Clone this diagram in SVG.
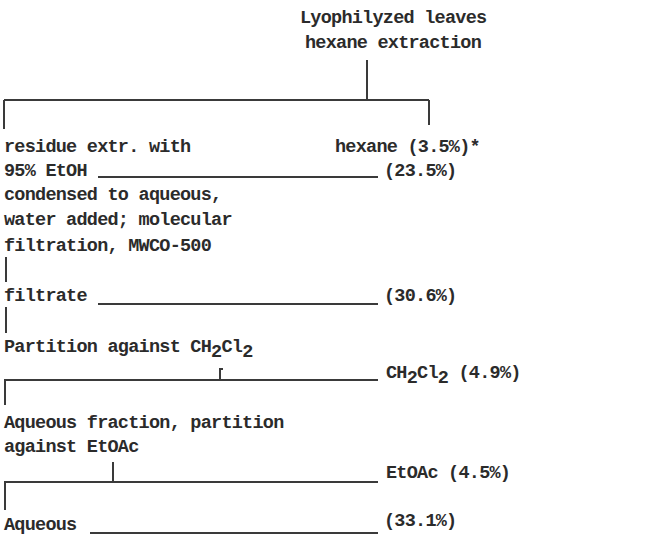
<svg xmlns="http://www.w3.org/2000/svg" width="647" height="539" viewBox="0 0 647 539">
<style>
text{font-family:"Liberation Mono","DejaVu Sans Mono",monospace;font-size:18.5px;letter-spacing:-0.75px;font-weight:bold;fill:#2b2b2b}
.ln{stroke:#3a3a3a;stroke-width:2;fill:none}
</style>
<rect width="647" height="539" fill="#fff"/>
<g id="connectors">
<path class="ln" d="M367 60V100M4 100H429M4 100V129M429 100V125"/>
<path class="ln" d="M98 177H378"/>
<path class="ln" d="M6 257V282"/>
<path class="ln" d="M98 304H378"/>
<path class="ln" d="M6 307V333"/>
<path class="ln" d="M220 368V380M220 369H223"/>
<path class="ln" d="M4 380H378M5 380V405"/>
<path class="ln" d="M113 462V482M4 482H378M5 482V510"/>
<path class="ln" d="M90 533H378"/>
</g>
<g id="start"><text x="300" y="23">Lyophilyzed leaves</text><text x="305" y="48">hexane extraction</text></g>
<g id="residue"><text x="4" y="152">residue extr. with</text><text x="4" y="176">95% EtOH</text></g>
<g id="hexane"><text x="335" y="152">hexane (3.5%)*</text></g>
<g id="etoh"><text x="384" y="176">(23.5%)</text></g>
<g id="condensed"><text x="4" y="200">condensed to aqueous,</text><text x="4" y="225">water added; molecular</text><text x="4" y="251">filtration, MWCO-500</text></g>
<g id="filtrate"><text x="4" y="301">filtrate</text><text x="384" y="301">(30.6%)</text></g>
<g id="partition"><text x="4" y="352">Partition against CH<tspan dy="5">2</tspan><tspan dy="-5">Cl</tspan><tspan dy="5">2</tspan></text></g>
<g id="ch2cl2"><text x="386" y="378">CH<tspan dy="5">2</tspan><tspan dy="-5">Cl</tspan><tspan dy="5">2</tspan><tspan dy="-5"> (4.9%)</tspan></text></g>
<g id="aqfrac"><text x="4" y="428">Aqueous fraction, partition</text><text x="4" y="452">against EtOAc</text></g>
<g id="etoac"><text x="386" y="478">EtOAc (4.5%)</text></g>
<g id="aqueous"><text x="4" y="530">Aqueous</text><text x="384" y="526">(33.1%)</text></g>
</svg>
